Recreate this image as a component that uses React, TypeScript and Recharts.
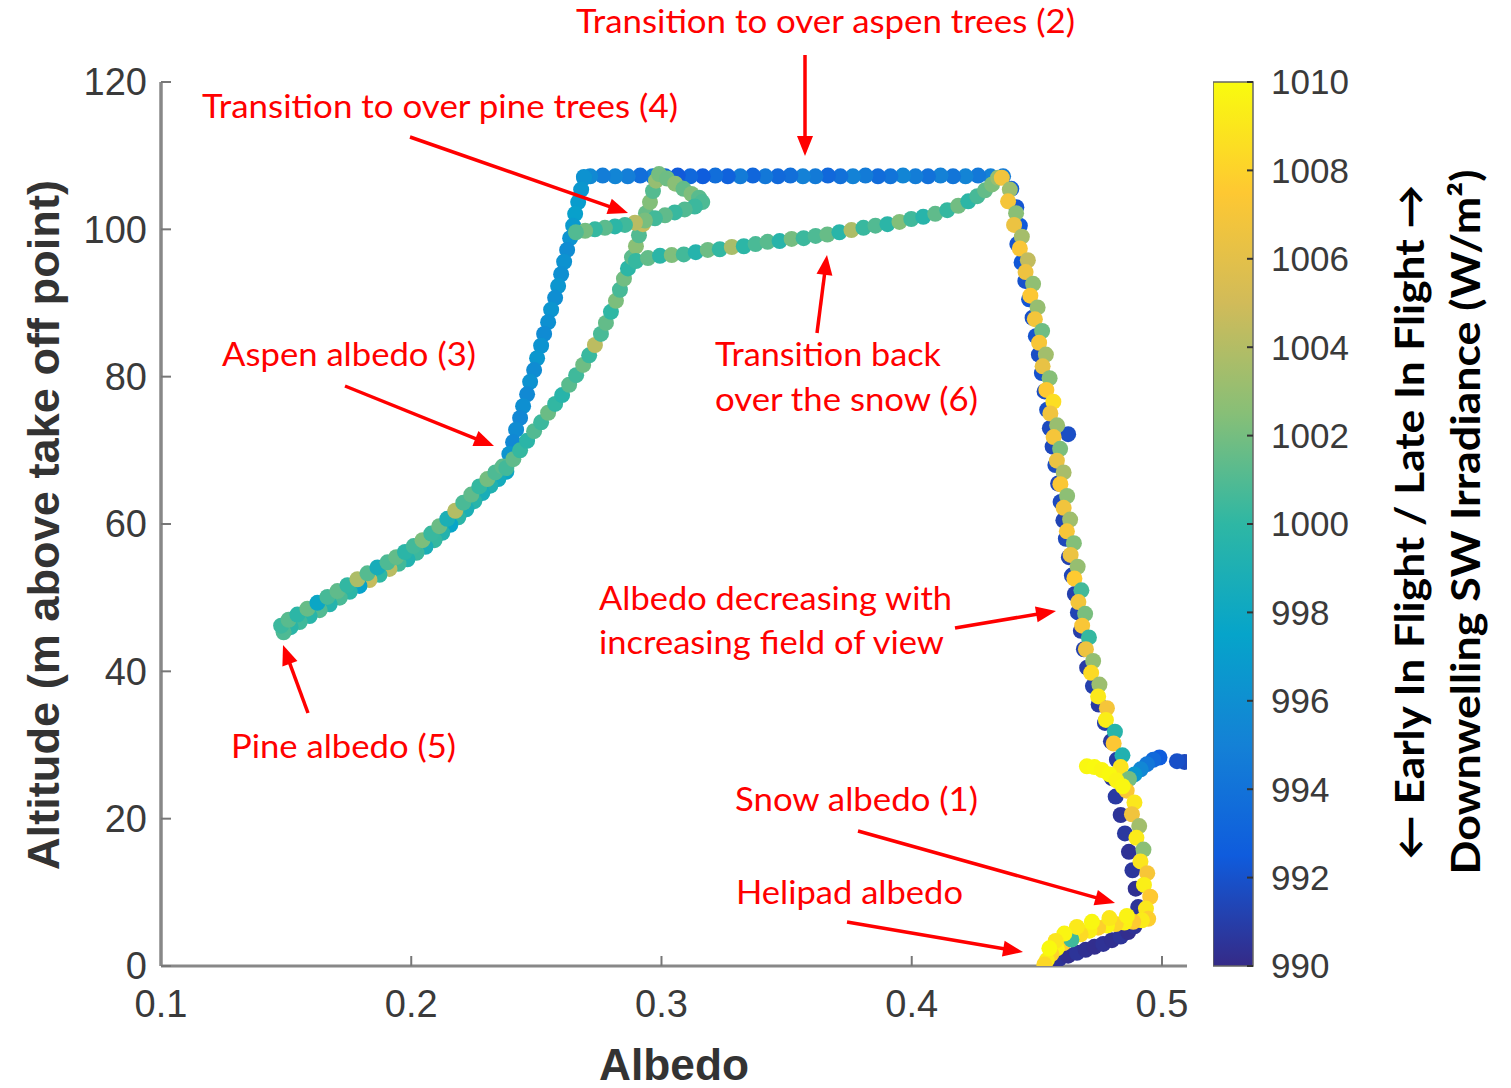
import { ScatterChart, Scatter, XAxis, YAxis, BarChart, Bar } from "recharts";

// [albedo, altitude (m), downwelling SW irradiance (W/m2)]
type Pt = [number, number, number];

const takeoff: Pt[] = [
  [0.4555, 0.5, 990.2], [0.459, 1.0, 990.4], [0.4625, 1.4, 990.2], [0.466, 1.8, 990.5],
  [0.4695, 2.2, 990.3], [0.473, 2.6, 990.2], [0.4765, 3.0, 990.4], [0.48, 3.5, 990.3],
  [0.4835, 4.0, 990.5], [0.4865, 4.6, 990.2], [0.489, 5.4, 990.4], [0.4905, 6.6, 990.3],
];

const climbEarly: Pt[] = [
  [0.4905, 8.0, 990.5], [0.4895, 10.5, 990.3], [0.4882, 13.0, 990.6], [0.4868, 15.5, 990.4],
  [0.4852, 18.0, 990.7], [0.4835, 20.5, 990.5], [0.4815, 23.0, 990.8], [0.48, 25.5, 990.6],
  [0.482, 28.0, 990.9], [0.4796, 30.5, 990.7], [0.4772, 33.0, 991.0], [0.4747, 35.5, 990.8],
  [0.4724, 38.0, 991.1], [0.4701, 40.5, 990.9], [0.4688, 43.0, 991.2], [0.4676, 45.5, 991.0],
  [0.4664, 48.0, 991.3], [0.4652, 50.5, 991.1], [0.464, 53.0, 991.4], [0.4628, 55.5, 991.2],
  [0.4616, 58.0, 991.5], [0.4606, 60.5, 991.3], [0.4595, 63.0, 991.6], [0.4585, 65.5, 991.4],
  [0.4574, 68.0, 991.7], [0.4563, 70.5, 991.5], [0.4625, 72.2, 991.8], [0.4552, 73.0, 991.6],
  [0.4541, 75.5, 991.9], [0.4531, 78.0, 991.7], [0.452, 80.5, 992.0], [0.4508, 83.0, 991.8],
  [0.4496, 85.5, 992.1], [0.4483, 88.0, 991.9], [0.4469, 90.5, 992.2], [0.4454, 93.0, 992.0],
  [0.4439, 95.5, 992.3], [0.4422, 98.0, 992.1], [0.4432, 100.5, 992.4], [0.4418, 103.0, 992.2],
  [0.4398, 105.5, 992.5],
];

const branch28: Pt[] = [
  [0.509, 27.7, 991.6], [0.506, 27.8, 991.9], [0.499, 28.3, 992.6], [0.4965, 28.0, 993.4],
  [0.494, 27.4, 994.3], [0.4915, 26.7, 995.4], [0.489, 26.0, 996.6], [0.4868, 25.4, 997.8],
];

const topLeg: Pt[] = [
  [0.4365, 107.2, 994.6], [0.4315, 107.2, 995.0], [0.4265, 107.3, 994.4], [0.4215, 107.2, 995.2],
  [0.4165, 107.2, 994.2], [0.4115, 107.3, 995.0], [0.4065, 107.2, 993.9], [0.4015, 107.2, 994.7],
  [0.3965, 107.3, 995.3], [0.3915, 107.2, 994.1], [0.3865, 107.2, 993.6], [0.3815, 107.3, 994.6],
  [0.3765, 107.2, 995.1], [0.3715, 107.2, 993.9], [0.3665, 107.3, 993.3], [0.3615, 107.2, 994.5],
  [0.3565, 107.2, 995.0], [0.3515, 107.3, 993.8], [0.3465, 107.2, 993.4], [0.3415, 107.2, 994.4],
  [0.3365, 107.3, 993.2], [0.3315, 107.2, 994.6], [0.3265, 107.2, 992.9], [0.3215, 107.3, 993.7],
  [0.3165, 107.2, 992.6], [0.3115, 107.2, 993.3], [0.3065, 107.3, 992.4], [0.3015, 107.2, 993.5],
  [0.2965, 107.2, 994.6], [0.2915, 107.3, 993.7], [0.2865, 107.2, 994.8], [0.2815, 107.2, 995.3],
  [0.2765, 107.3, 994.7], [0.2715, 107.2, 995.6], [0.269, 107.1, 996.1],
];

const aspenDescent: Pt[] = [
  [0.2691, 107.0, 996.2], [0.2679, 105.4, 996.6], [0.2667, 103.7, 996.9], [0.2655, 102.1, 997.2],
  [0.2647, 100.5, 996.8], [0.2635, 98.8, 996.3], [0.2623, 97.2, 995.8], [0.2611, 95.6, 996.2],
  [0.2599, 93.9, 996.0], [0.2587, 92.3, 996.5], [0.2575, 90.7, 995.9], [0.2559, 89.1, 996.4],
  [0.2547, 87.4, 996.1], [0.2531, 85.8, 995.7], [0.2519, 84.2, 996.3], [0.2503, 82.5, 996.6],
  [0.2491, 80.9, 995.8], [0.2475, 79.3, 996.2], [0.2463, 77.6, 995.6], [0.2447, 76.0, 996.0],
  [0.2435, 74.4, 995.4], [0.2419, 72.8, 995.8], [0.2407, 71.1, 995.5], [0.2392, 69.5, 996.4],
  [0.238, 67.9, 997.0],
];

const pineDown: Pt[] = [
  [0.238, 67.1, 997.8], [0.2348, 66.1, 998.4], [0.2316, 65.2, 999.2], [0.2284, 64.2, 998.7],
  [0.2252, 63.1, 999.6], [0.222, 62.0, 998.9], [0.2188, 60.9, 999.8], [0.2156, 59.9, 997.6],
  [0.2124, 58.8, 999.4], [0.2093, 57.8, 1000.2], [0.2057, 56.9, 998.8], [0.2021, 56.1, 1000.4],
  [0.1985, 55.2, 999.3], [0.1949, 54.6, 1000.6], [0.1913, 53.9, 1004.2], [0.1873, 53.1, 1000.0],
  [0.1833, 52.4, 1004.6], [0.1793, 51.6, 997.4], [0.1754, 50.8, 999.9], [0.1714, 50.0, 1000.8],
  [0.1674, 49.1, 999.5], [0.1634, 48.3, 1001.0], [0.1594, 47.5, 999.7], [0.1554, 46.7, 1000.5],
  [0.1518, 46.0, 999.8], [0.149, 45.3, 1000.9],
];

const pineUp: Pt[] = [
  [0.148, 46.2, 1000.4], [0.151, 47.0, 1001.2], [0.1545, 47.7, 999.9], [0.1585, 48.5, 1001.6],
  [0.1625, 49.3, 997.8], [0.1665, 50.1, 1000.7], [0.1705, 50.9, 1001.4], [0.1745, 51.7, 1000.1],
  [0.1785, 52.5, 1003.8], [0.1825, 53.3, 1001.1], [0.1865, 54.1, 998.6], [0.1905, 54.8, 1000.9],
  [0.194, 55.5, 1001.5], [0.1975, 56.2, 999.8], [0.201, 57.0, 1000.6], [0.2045, 57.8, 1002.2],
  [0.208, 58.7, 1000.3], [0.2112, 59.7, 1001.7], [0.2144, 60.7, 998.9], [0.2176, 61.8, 1004.0],
  [0.2208, 62.9, 1000.8], [0.224, 64.0, 1001.4], [0.2272, 65.1, 1000.2], [0.2304, 66.1, 1002.0],
  [0.2336, 67.0, 1000.9], [0.2365, 67.8, 1001.3],
];

const aspenClimb: Pt[] = [
  [0.238, 67.6, 1000.6], [0.2408, 68.8, 1001.4], [0.2435, 70.0, 1000.2], [0.2463, 71.3, 999.8],
  [0.2491, 72.6, 1001.0], [0.2519, 73.8, 1000.4], [0.2547, 75.1, 1001.7], [0.2575, 76.3, 1000.1],
  [0.2603, 77.5, 999.6], [0.2631, 78.9, 1001.2], [0.2659, 80.2, 1000.5], [0.2687, 81.6, 1001.8],
  [0.2711, 82.9, 1000.3], [0.2734, 84.3, 1004.3], [0.2758, 85.8, 1000.8], [0.2778, 87.3, 1001.5],
  [0.2798, 88.8, 1000.0], [0.2818, 90.3, 1002.2], [0.2834, 91.8, 1000.7], [0.285, 93.3, 1001.9],
  [0.2866, 94.7, 999.9], [0.2882, 96.2, 1001.3], [0.2898, 97.7, 1002.6], [0.291, 99.2, 1001.0],
  [0.2926, 100.7, 1004.6], [0.2938, 102.2, 1001.6], [0.2954, 103.7, 1002.4], [0.2966, 105.2, 1001.1],
  [0.2978, 106.6, 1003.0], [0.299, 107.5, 1002.0],
];

const pineLoop: Pt[] = [
  [0.3022, 106.9, 1001.8], [0.3055, 106.2, 1002.6], [0.3088, 105.5, 1001.5], [0.312, 104.8, 1002.3],
  [0.315, 104.3, 1001.2], [0.3163, 103.7, 1000.9], [0.3133, 103.1, 1000.4], [0.3093, 102.7, 1001.0],
  [0.3053, 102.3, 1000.3], [0.3014, 101.9, 1001.4], [0.2974, 101.5, 1000.6], [0.2934, 101.2, 1002.1],
  [0.2894, 100.9, 1004.2], [0.2854, 100.6, 1000.5], [0.2814, 100.4, 999.9], [0.2774, 100.2, 1001.3],
  [0.2734, 100.0, 1000.2], [0.2695, 99.8, 1002.0], [0.2658, 99.6, 1001.0],
];

const snowReturn: Pt[] = [
  [0.2898, 95.7, 1000.2], [0.2946, 96.1, 1001.5], [0.2994, 96.4, 999.8], [0.3041, 96.5, 1002.3],
  [0.3089, 96.6, 1000.6], [0.3137, 96.9, 999.5], [0.3185, 97.2, 1001.8], [0.3233, 97.3, 1000.1],
  [0.3281, 97.6, 1003.6], [0.3329, 97.7, 999.9], [0.3376, 98.0, 1000.8], [0.3424, 98.3, 1001.2],
  [0.3472, 98.4, 999.6], [0.352, 98.7, 1002.0], [0.3568, 98.8, 1000.4], [0.3616, 99.1, 1000.9],
  [0.3663, 99.3, 1001.6], [0.3711, 99.6, 999.7], [0.3759, 99.9, 1003.8], [0.3807, 100.2, 1000.3],
  [0.3855, 100.5, 1001.0], [0.3903, 100.7, 999.8], [0.3951, 101.0, 1002.4], [0.3998, 101.4, 1000.5],
  [0.4046, 101.7, 999.6], [0.4094, 102.1, 1001.4], [0.4142, 102.6, 1000.2], [0.4186, 103.2, 1001.9],
  [0.4226, 103.8, 999.9], [0.4262, 104.5, 1000.7], [0.4293, 105.3, 1001.5], [0.4321, 106.1, 1002.2],
  [0.4345, 107.0, 1003.0],
];

const snowDescent: Pt[] = [
  [0.436, 107.0, 1006.8], [0.4392, 105.4, 1003.2], [0.4385, 103.8, 1007.0], [0.4417, 102.2, 1002.6],
  [0.4409, 100.6, 1006.5], [0.444, 99.0, 1003.5], [0.4432, 97.4, 1007.2], [0.4464, 95.8, 1004.5],
  [0.4455, 94.2, 1006.6], [0.4485, 92.6, 1002.8], [0.4474, 91.0, 1007.4], [0.4503, 89.4, 1003.0],
  [0.4492, 87.8, 1006.9], [0.4521, 86.2, 1001.8], [0.4509, 84.6, 1007.1], [0.4536, 83.0, 1003.4],
  [0.4523, 81.4, 1006.3], [0.4551, 79.8, 1002.5], [0.4538, 78.2, 1007.5], [0.4566, 76.6, 1008.6],
  [0.4554, 75.0, 1006.7], [0.4581, 73.4, 1003.1], [0.4567, 71.8, 1007.0], [0.4593, 70.2, 1002.2],
  [0.458, 68.6, 1006.4], [0.4607, 67.0, 1003.6], [0.4594, 65.4, 1007.3], [0.4621, 63.8, 1002.7],
  [0.4607, 62.2, 1006.8], [0.4633, 60.6, 1003.3], [0.462, 59.0, 1007.1], [0.4648, 57.4, 1002.4],
  [0.4635, 55.8, 1006.5], [0.4663, 54.2, 1003.0], [0.465, 52.6, 1007.6], [0.4678, 51.0, 1000.6],
  [0.4666, 49.4, 1006.9], [0.4693, 47.8, 1002.1], [0.4681, 46.2, 1007.2], [0.4708, 44.6, 1000.2],
  [0.4696, 43.0, 1006.6], [0.4725, 41.4, 1002.9], [0.4717, 39.8, 1008.4], [0.475, 38.2, 1003.2],
  [0.4745, 36.6, 1009.1], [0.478, 35.0, 1007.0], [0.4776, 33.4, 1009.3], [0.4812, 31.8, 999.6],
  [0.4807, 30.2, 1007.4], [0.4842, 28.6, 999.2], [0.4835, 27.0, 1008.8], [0.4868, 25.4, 1002.0],
  [0.4859, 23.8, 1007.3], [0.489, 22.2, 1009.0], [0.488, 20.6, 1006.8], [0.4909, 19.0, 1003.4],
  [0.4898, 17.4, 1009.2], [0.4926, 15.8, 1002.6], [0.4914, 14.2, 1008.9], [0.4941, 12.6, 1007.1],
  [0.4928, 11.0, 1009.4], [0.4953, 9.4, 1007.5], [0.4936, 7.8, 1009.0], [0.4945, 6.4, 1007.8],
];

const landing: Pt[] = [
  [0.492, 6.2, 1009.2], [0.4885, 6.0, 1007.6], [0.485, 5.9, 1009.5], [0.4815, 5.7, 1008.2],
  [0.478, 5.5, 1009.7], [0.4745, 5.2, 1007.9], [0.471, 4.8, 1009.4], [0.4675, 4.3, 1008.4],
  [0.464, 3.7, 1009.8], [0.4607, 3.1, 1007.7], [0.458, 2.4, 1009.6], [0.4558, 1.6, 1008.0],
  [0.454, 0.8, 1009.3], [0.453, 0.2, 1008.3],
  [0.486, 6.8, 1009.6], [0.479, 6.5, 1009.0], [0.472, 6.0, 1009.8], [0.4638, 3.6, 1000.5],
  [0.466, 5.3, 1009.1], [0.461, 4.4, 1009.7], [0.4575, 3.4, 1008.9], [0.455, 2.4, 1009.9],
];

const hoverStub: Pt[] = [
  [0.47, 27.1, 1009.8], [0.473, 27.0, 1009.9], [0.476, 26.6, 1009.7],
  [0.479, 26.0, 1009.9], [0.4818, 25.2, 1009.6], [0.4843, 24.4, 1009.8],
];

const albedoTicks = [0.1, 0.2, 0.3, 0.4, 0.5];
const altitudeTicks = [0, 20, 40, 60, 80, 100, 120];
const irradianceTicks = [990, 992, 994, 996, 998, 1000, 1002, 1004, 1006, 1008, 1010];

const flight = [
  takeoff, climbEarly, branch28, topLeg, aspenDescent, pineDown, pineUp,
  aspenClimb, pineLoop, snowReturn, snowDescent, landing, hoverStub,
];

// parula colormap anchors
const PARULA = ["#352A87", "#0F5CDD", "#1481D6", "#06A4CA", "#2EB7A4", "#87BF77", "#D1BB59", "#FEC832", "#F9FB0E"];

function parula(v: number) {
  const t = Math.min(1, Math.max(0, (v - 990) / 20)) * (PARULA.length - 1);
  const i = Math.min(PARULA.length - 2, Math.floor(t));
  const f = t - i;
  const a = PARULA[i], b = PARULA[i + 1];
  const ch = (h: string, k: number) => parseInt(h.slice(1 + 2 * k, 3 + 2 * k), 16);
  const c = [0, 1, 2].map((k) => Math.round(ch(a, k) + (ch(b, k) - ch(a, k)) * f));
  return `rgb(${c[0]},${c[1]},${c[2]})`;
}

const Dot = (p: any) =>
  p.cx == null ? null : <circle cx={p.cx} cy={p.cy} r={8} fill={parula(p.payload.irr)} />;

const notes = [
  { t: "Transition to over aspen trees (2)", x: 576, y: 33, w: 499 },
  { t: "Transition to over pine trees (4)", x: 202, y: 118, w: 476 },
  { t: "Aspen albedo (3)", x: 222, y: 366, w: 254 },
  { t: "Transition back", x: 715, y: 366, w: 226 },
  { t: "over the snow (6)", x: 715, y: 411, w: 263 },
  { t: "Albedo decreasing with", x: 599, y: 610, w: 353 },
  { t: "increasing field of view", x: 599, y: 654, w: 345 },
  { t: "Pine albedo (5)", x: 231, y: 758, w: 225 },
  { t: "Snow albedo (1)", x: 735, y: 811, w: 243 },
  { t: "Helipad albedo", x: 736, y: 904, w: 227 },
];

const arrows = [
  [805, 55, 805, 156],
  [410, 137, 628, 213],
  [345, 386, 494, 446],
  [817, 333, 827, 255],
  [955, 628, 1056, 611],
  [308, 713, 283, 645],
  [858, 831, 1115, 903],
  [847, 922, 1023, 952],
];

function Arrow({ a }: { a: number[] }) {
  const [x1, y1, x2, y2] = a;
  const len = Math.hypot(x2 - x1, y2 - y1);
  const ux = (x2 - x1) / len, uy = (y2 - y1) / len;
  const hl = 20, hw = 8;
  const bx = x2 - ux * hl, by = y2 - uy * hl;
  const pts = `${x2},${y2} ${bx - uy * hw},${by + ux * hw} ${bx + uy * hw},${by - ux * hw}`;
  return (
    <g>
      <line x1={x1} y1={y1} x2={bx + ux * 2} y2={by + uy * 2} stroke="#ff0000" strokeWidth={3.5} />
      <polygon points={pts} fill="#ff0000" />
    </g>
  );
}

const tickFont = { fontSize: 38, fill: "#3a3a3a", fontFamily: "Liberation Sans, Arial, sans-serif" };

export default function App() {
  return (
    <div style={{ position: "absolute", left: 0, top: 0, width: 1511, height: 1088, background: "#fff" }}>
      <div style={{ position: "absolute", left: 0, top: 0 }}>
        <ScatterChart width={1511} height={1088} margin={{ top: 82, right: 324, bottom: 62, left: 81 }}>
          <XAxis
            type="number"
            dataKey="albedo"
            domain={[0.1, 0.51]}
            ticks={albedoTicks}
            allowDataOverflow
            height={60}
            tickFormatter={(v: number) => v.toFixed(1)}
            tick={tickFont}
            tickSize={-10}
            tickMargin={34}
            axisLine={{ stroke: "#888", strokeWidth: 3 }}
            tickLine={{ stroke: "#777", strokeWidth: 2 }}
          />
          <YAxis
            type="number"
            dataKey="alt"
            domain={[0, 120]}
            ticks={altitudeTicks}
            allowDataOverflow
            width={80}
            tick={tickFont}
            tickSize={-10}
            tickMargin={24}
            axisLine={{ stroke: "#888", strokeWidth: 3.5 }}
            tickLine={{ stroke: "#777", strokeWidth: 2 }}
          />
          {flight.map((seg, i) => (
            <Scatter
              key={i}
              data={seg.map(([albedo, alt, irr]) => ({ albedo, alt, irr }))}
              shape={Dot}
              isAnimationActive={false}
            />
          ))}
        </ScatterChart>
      </div>

      <div style={{ position: "absolute", left: 1213, top: 0 }}>
        <BarChart
          width={150}
          height={1088}
          data={[{ k: "cb", v: [990, 1010] }]}
          margin={{ top: 82, right: 0, bottom: 122, left: 0 }}
          barCategoryGap={0}
        >
          <defs>
            <linearGradient id="parulaGrad" x1="0" y1="1" x2="0" y2="0">
              {PARULA.map((c, i) => (
                <stop key={i} offset={`${(i / (PARULA.length - 1)) * 100}%`} stopColor={c} />
              ))}
            </linearGradient>
          </defs>
          <XAxis type="category" dataKey="k" hide />
          <Bar dataKey="v" fill="url(#parulaGrad)" stroke="#666" strokeWidth={1.5} isAnimationActive={false} />
          <YAxis
            orientation="right"
            type="number"
            domain={[990, 1010]}
            ticks={irradianceTicks}
            width={110}
            tick={{ ...tickFont, fontSize: 35 }}
            tickSize={-6}
            tickMargin={24}
            axisLine={false}
            tickLine={{ stroke: "#333", strokeWidth: 2 }}
          />
        </BarChart>
      </div>

      <svg width={1511} height={1088} style={{ position: "absolute", left: 0, top: 0, pointerEvents: "none" }}>
        <text
          x={59}
          y={525}
          transform="rotate(-90 59 525)"
          textAnchor="middle"
          fontFamily="Liberation Sans, Arial, sans-serif"
          fontWeight="bold"
          fontSize={44}
          fill="#333"
          textLength={690}
          lengthAdjust="spacingAndGlyphs"
        >
          Altitude (m above take off point)
        </text>
        <text
          x={674}
          y={1080}
          textAnchor="middle"
          fontFamily="Liberation Sans, Arial, sans-serif"
          fontWeight="bold"
          fontSize={44}
          fill="#333"
          textLength={150}
          lengthAdjust="spacingAndGlyphs"
        >
          Albedo
        </text>
        <text
          x={1424}
          y={522}
          transform="rotate(-90 1424 522)"
          textAnchor="middle"
          fontFamily="Lato, Open Sans, sans-serif"
          fontWeight="bold"
          fontSize={40}
          fill="#000"
          textLength={675}
          lengthAdjust="spacingAndGlyphs"
        >
          ← Early In Flight / Late In Flight →
        </text>
        <text
          x={1480}
          y={522}
          transform="rotate(-90 1480 522)"
          textAnchor="middle"
          fontFamily="Lato, Open Sans, sans-serif"
          fontWeight="bold"
          fontSize={40}
          fill="#000"
          textLength={705}
          lengthAdjust="spacingAndGlyphs"
        >
          Downwelling SW Irradiance (W/m²)
        </text>
        {notes.map((n) => (
          <text
            key={n.t}
            x={n.x}
            y={n.y}
            fontFamily="Lato, Open Sans, sans-serif"
            fontSize={33}
            fill="#ff0000"
            textLength={n.w}
            lengthAdjust="spacingAndGlyphs"
          >
            {n.t}
          </text>
        ))}
        {arrows.map((a, i) => (
          <Arrow key={i} a={a} />
        ))}
      </svg>
    </div>
  );
}
